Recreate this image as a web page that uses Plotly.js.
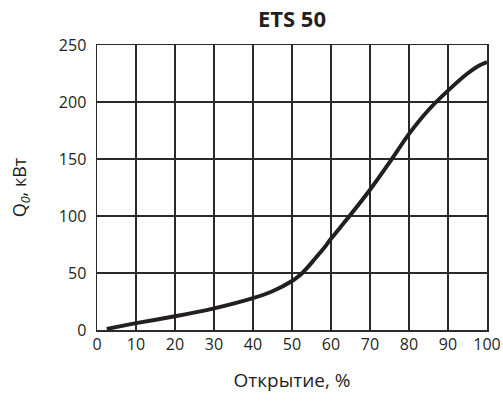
<!DOCTYPE html>
<html>
<head>
<meta charset="utf-8">
<script src="https://cdn.plot.ly/plotly-3.0.1.min.js"></script>
<style>html,body{margin:0;padding:0;background:#fff;}#chart{width:503px;height:401px;}</style>
</head>
<body>
<div id="chart"></div>
<script>
const opening = [2.5, 10, 20, 30, 40, 45, 50, 52, 54, 56, 58, 60, 65, 70, 75, 80, 85, 90, 95, 98, 100];
const power   = [1, 6, 12, 19, 28, 34, 43, 48, 55, 63, 71, 80, 101, 123, 147, 172, 193, 210, 225, 232, 235];
const xTicks = [0, 10, 20, 30, 40, 50, 60, 70, 80, 90, 100];
const yTicks = [0, 50, 100, 150, 200, 250];

const font = "'Open Sans', 'Noto Sans', sans-serif";
const dark = '#231f20';

Plotly.newPlot('chart', [{
  x: opening, y: power, type: 'scatter', mode: 'lines',
  line: {color: dark, width: 4, shape: 'spline', smoothing: 0.6},
  hoverinfo: 'skip'
}], {
  width: 503, height: 401,
  margin: {l: 97, r: 16, t: 45, b: 71},
  paper_bgcolor: '#fff', plot_bgcolor: '#fff',
  showlegend: false,
  font: {family: font, size: 16, color: dark},
  title: {text: '<b>ETS 50</b>', font: {family: font, size: 22, color: dark},
          xref: 'paper', x: 0.5, xanchor: 'center', yref: 'container', y: 0.953, yanchor: 'middle'},
  xaxis: {range: [0, 100], tickvals: xTicks, ticktext: xTicks.map(String),
          showgrid: true, gridcolor: '#2a2a2a', gridwidth: 1.5, zeroline: false,
          showline: true, linecolor: '#2a2a2a', linewidth: 1.5, mirror: true,
          ticks: '', ticklabelstandoff: -1,
          title: {text: 'Открытие, %', font: {family: font, size: 19, color: dark}, standoff: 20}},
  yaxis: {range: [0, 250], tickvals: yTicks, ticktext: yTicks.map(String),
          showgrid: true, gridcolor: '#2a2a2a', gridwidth: 1.5, zeroline: false,
          showline: true, linecolor: '#2a2a2a', linewidth: 1.5, mirror: true,
          ticks: '', ticklabelstandoff: 6,
          title: {text: 'Q<sub><i>0</i></sub>, кВт', font: {family: font, size: 18, color: dark}, standoff: 27}}
}, {staticPlot: true, displayModeBar: false});
</script>
</body>
</html>
